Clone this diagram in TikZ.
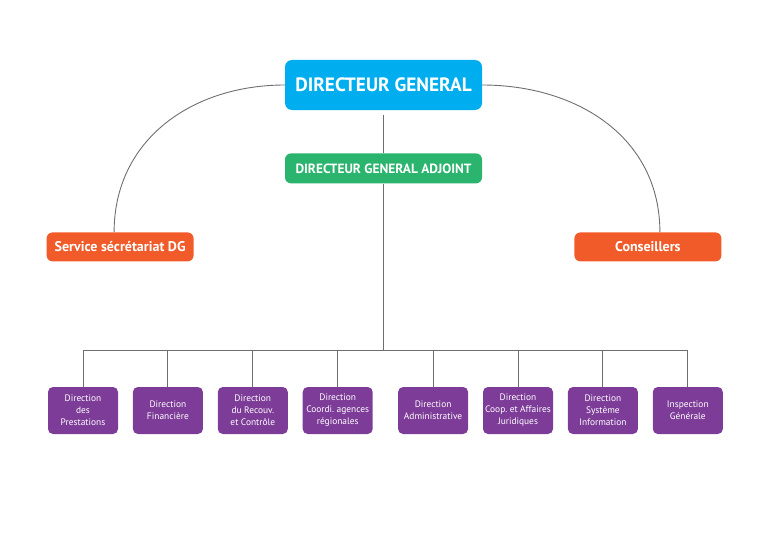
\documentclass[tikz,border=0pt]{standalone}
\usepackage{fontspec}
\setmainfont{PT Sans}
\usepackage{xcolor}
\usepackage{tikz}
\usetikzlibrary{positioning,calc}
\definecolor{DGblue}{HTML}{00AEEF}
\definecolor{DGAgreen}{HTML}{2BB46E}
\definecolor{ORGorange}{HTML}{F15A29}
\definecolor{DIRpurple}{HTML}{7D3C98}
\definecolor{LINEgray}{HTML}{6D6E71}
\frenchspacing
\tikzset{
  org/box/.style={rounded corners=7pt, text=white, align=center, inner sep=1pt},
  org/dg/.style={org/box, fill=DGblue, minimum width=197pt, minimum height=50pt, font=\bfseries\fontsize{19.3}{22}\selectfont},
  org/dga/.style={org/box, rounded corners=6pt, fill=DGAgreen, minimum width=197pt, minimum height=30pt, font=\bfseries\fontsize{13.4}{15}\selectfont},
  org/side/.style={org/box, rounded corners=6pt, fill=ORGorange, minimum width=147pt, minimum height=29pt, font=\bfseries\fontsize{14}{16}\selectfont},
  org/dir/.style={org/box, rounded corners=5pt, fill=DIRpurple, inner xsep=0pt, minimum width=70pt, minimum height=47pt, font=\fontsize{9.4}{12}\selectfont},
  org/line/.style={draw=LINEgray, line width=0.9pt}
}
\begin{document}
\begin{tikzpicture}[x=1pt, y=-1pt, node distance=14.5pt]
\useasboundingbox (0,0) rectangle (768,543);
\node[org/dg] (dg) at (383.5,85) {DIRECTEUR GENERAL};
\node[org/dga, below=43pt of dg] (dga) {DIRECTEUR GENERAL ADJOINT};
\node[org/side, below left=122pt and 91pt of dg] (sec) {Service sécrétariat DG};
\node[org/side, below right=122pt and 92pt of dg] (cons) {Conseillers};

% directions
\node[org/dir] (d1) at (83,410.5) {Direction\\des\\Prestations};
\node[org/dir, right=of d1] (d2) {Direction\\Financière};
\node[org/dir, right=of d2] (d3) {Direction\\du Recouv.\\et Contrôle};
\node[org/dir, right=of d3] (d4) {Direction\\Coordi. agences\\régionales};
\node[org/dir, right=25pt of d4] (d5) {Direction\\Administrative};
\node[org/dir, right=of d5] (d6) {Direction\\Coop. et Affaires\\Juridiques};
\node[org/dir, right=of d6] (d7) {Direction\\Système\\Information};
\node[org/dir, right=of d7] (d8) {Inspection\\Générale};
\coordinate (bus) at ($(d4.north)!0.5!(d5.north) + (0,-36)$);

\draw[org/line] (dg.west) to[out=180, in=90, looseness=1.05] ([xshift=-6pt]sec.north);
\draw[org/line] (dg.east) to[out=0, in=90, looseness=1.05] ([xshift=12pt]cons.north);
\draw[org/line, shorten <=5pt] (dg.south) -- (dga.north);
\draw[org/line] (dga.south) -- (dga.south |- bus);
\draw[org/line] (d1.north |- bus) -- (d8.north |- bus);
\foreach \d in {d1,d2,d3,d4,d5,d6,d7,d8}
  \draw[org/line] (\d.north |- bus) -- (\d.north);
\end{tikzpicture}
\end{document}
